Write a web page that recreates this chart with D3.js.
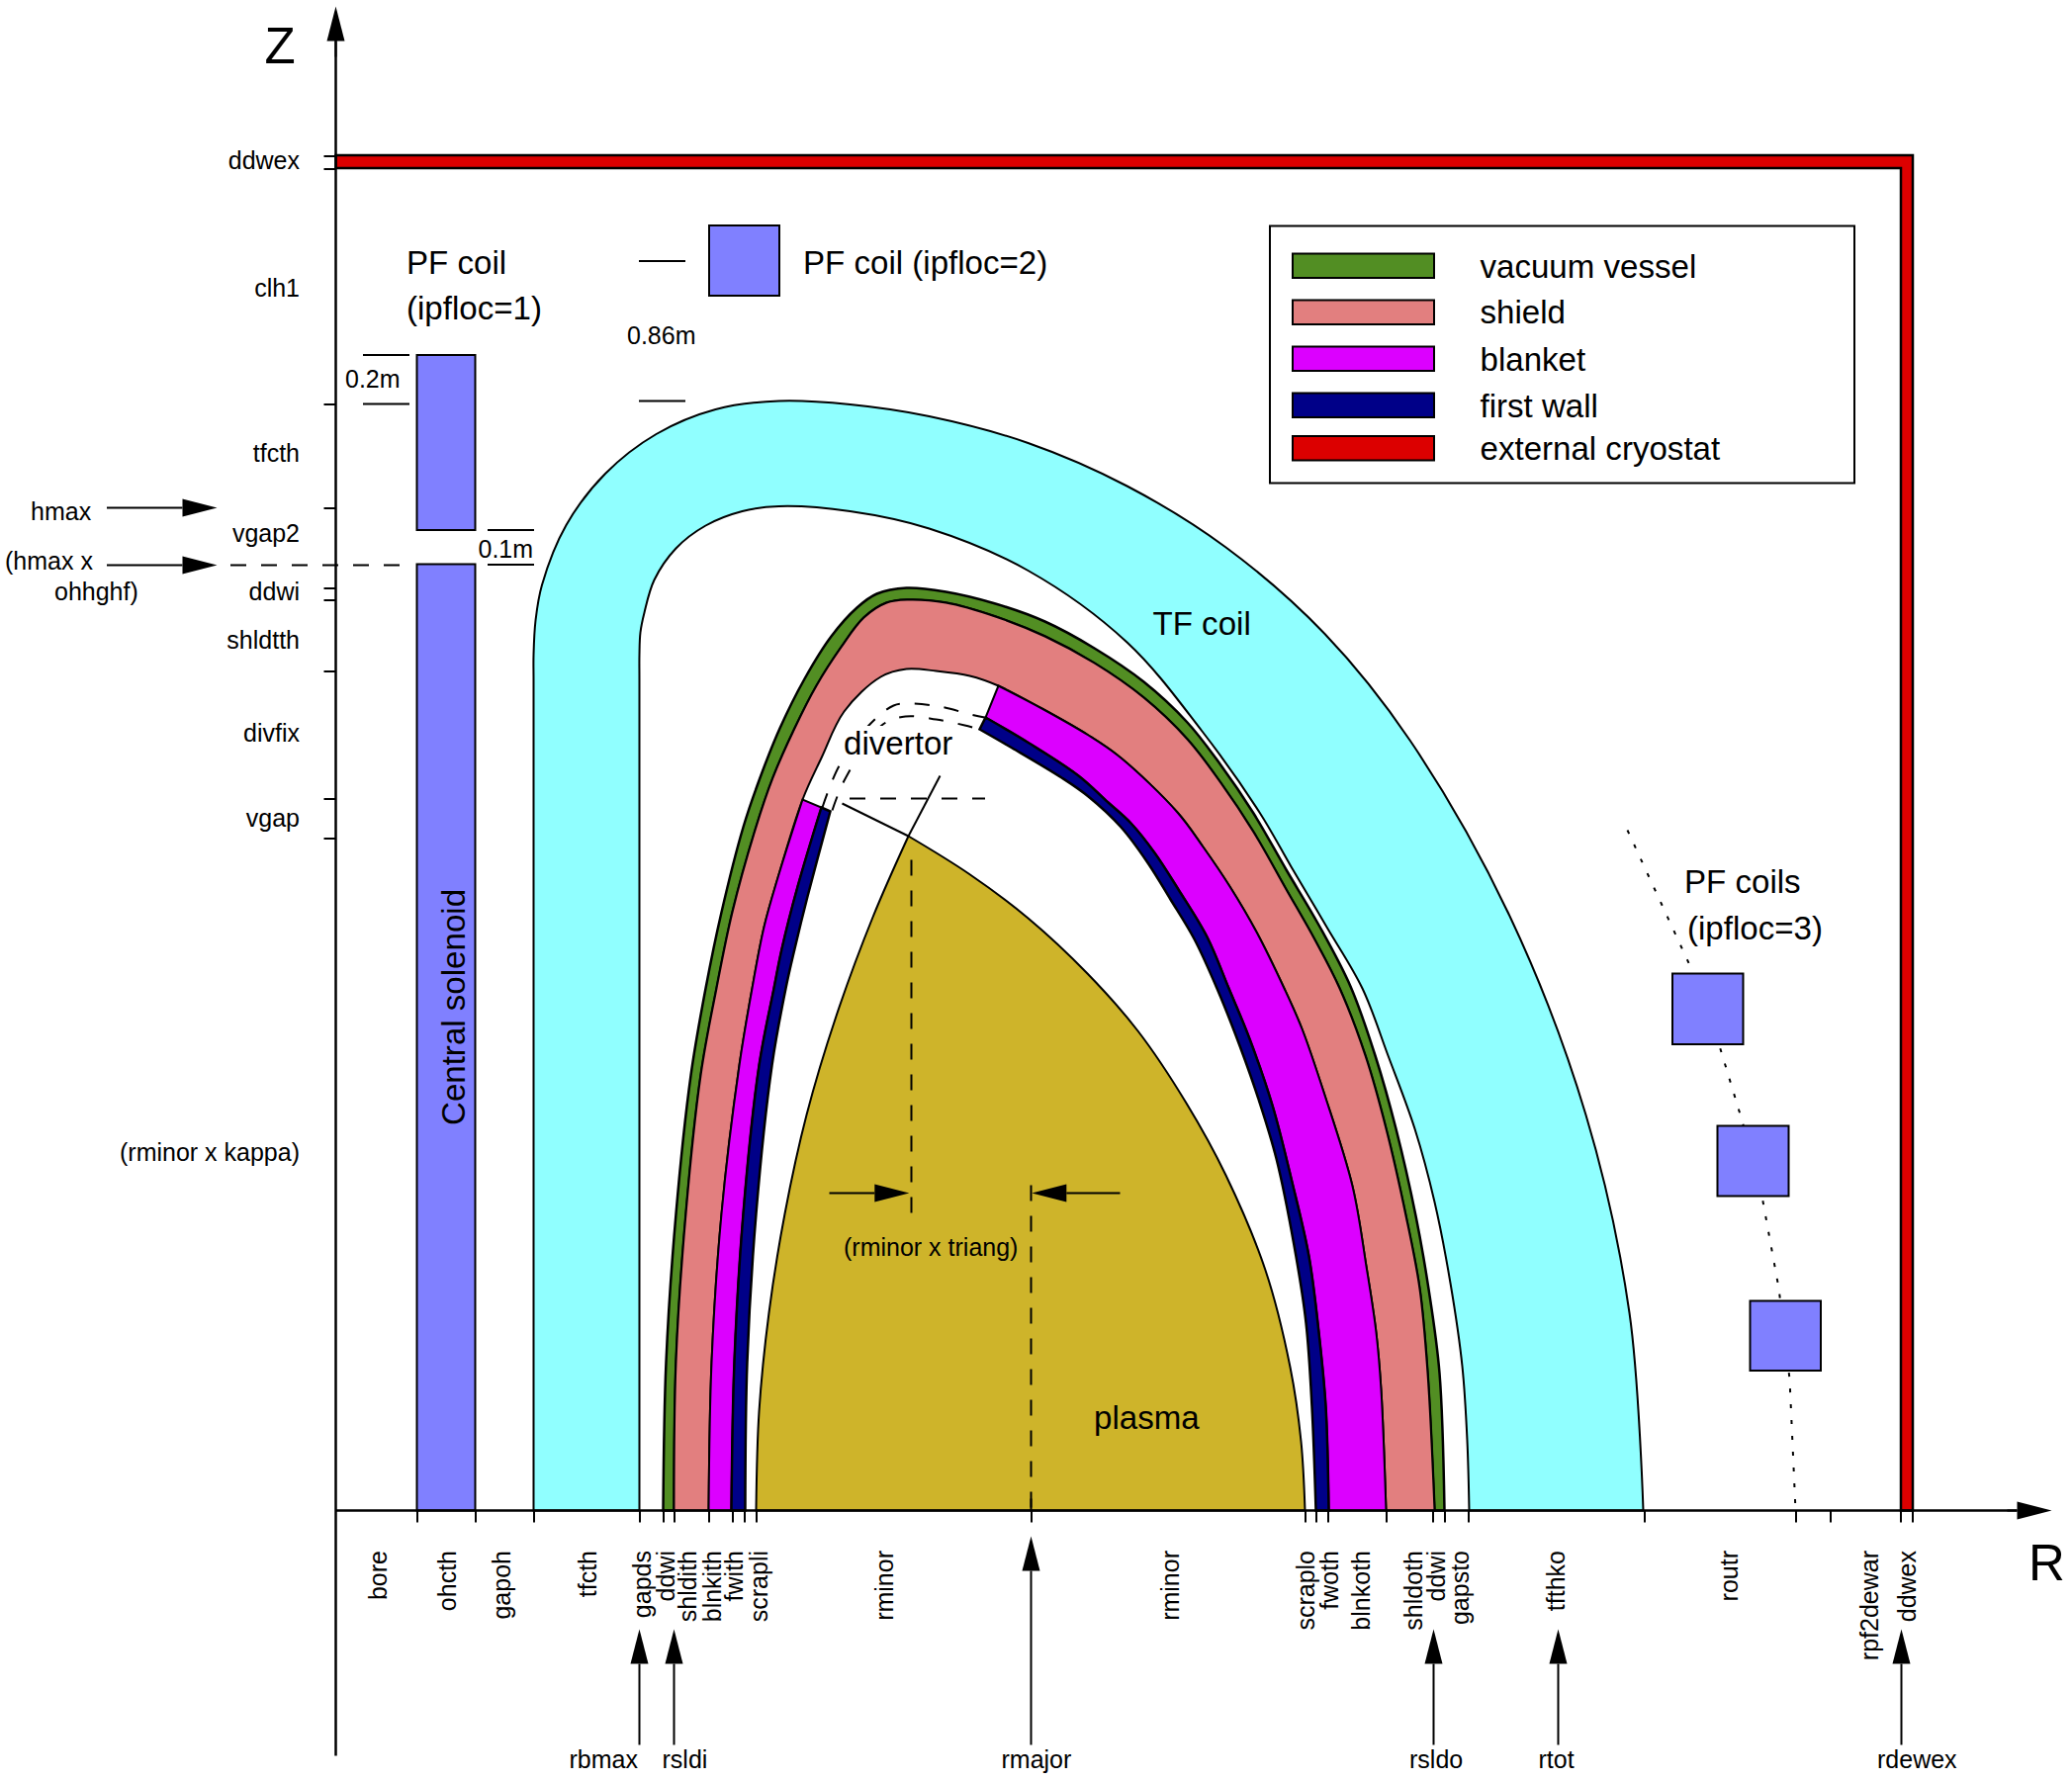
<!DOCTYPE html>
<html>
<head>
<meta charset="utf-8">
<script src="https://cdnjs.cloudflare.com/ajax/libs/d3/7.8.5/d3.min.js"></script>
<style>
  body { margin: 0; background: #fff; }
  text { font-family: "Liberation Sans", Arial, sans-serif; fill: #000; }
</style>
</head>
<body>
<svg id="chart" width="2095" height="1800"></svg>
<script>
// all outlines are [R, Z] in drawing units, origin where the two axes cross

const plasmaLeft = [[425,0],[428,100],[438,200],[454,300],[476,400],[506,500],[543,600],[579,682]];
const plasmaRight = [[579,682],[640,644],[700,599],[760,543],[811,485],[860,412],[900,339],[940,243],[965,145],[976,70],[980,0]];
const scrapeLine = [[512,715],[579,682]];

const tfOuter = [[200,0],[200,400],[200,700],[200,840],[200,865],[202,900],[208.5,936],[233,996.5],[272.5,1048.5],[324,1088.5],[384,1113.5],[448,1122],[520,1118.5],[600,1106.5],[700,1079.5],[800,1036],[900,974],[1000,886.5],[1086,779],[1187.5,600],[1264,400],[1308,200],[1322,0]];
const tfInner = [[307,0],[307,400],[307,700],[307,840],[307,865],[308,888],[312,908],[322,941],[344,973],[374,996],[411,1010.5],[448,1015.5],[520,1010.5],[600,993],[700,950.5],[800,878],[876,788],[934,706],[966,651],[1002,590],[1038,528],[1064,460],[1091,386],[1111,312],[1127,230],[1139,146],[1144,71],[1146,0]];

const vesselOuter = [[331,0],[334,150],[344,300],[359,440],[374,528],[390,605],[412,691],[429,741],[449,791],[474,841],[501,884],[527,913],[547,927],[577,933],[617,929],[667,917],[717,899],[767,872],[817,838],[861,797],[894,755],[928,705],[961,648],[994,592],[1026,530],[1051,460],[1072,386],[1092,298],[1105,224],[1116,139],[1121,0]];
const vesselInner = [[342,0],[344,150],[354,300],[369,440],[385,528],[401,605],[424,688],[442,741],[464,791],[486,834],[511,873],[534,903],[557,918],[578,921],[617,918],[667,904],[717,884],[767,857],[817,822],[861,780],[894,737],[928,686],[961,628],[990,577],[1015,528],[1041,460],[1062,386],[1082,298],[1096,224],[1104,139],[1111,0]];

const shieldInnerLeft = [[377,0],[380,150],[390,300],[408,450],[421,528],[433,590],[447,640],[472,719]];
const shieldDome = [[491,761],[514,808],[551,843],[577,851],[607,849],[641,844]];
const shieldInnerRight = [[670,834],[714,811],[761,784],[794,761],[851,706],[877,671],[904,631],[931,585],[959,528],[977,487],[999,423],[1028,328],[1042,247],[1052,180],[1057,122],[1062,0]];

const blanketInnerLeft = [[400,0],[403,150],[412,300],[428,450],[443,528],[451,568],[467,631],[491,711]];
const blanketInnerRight = [[657,802],[701,776],[751,743],[781,716],[804,695],[828,665],[852,628],[881,580],[903,528],[924,477],[947,410],[967,332],[984,257],[994,180],[1001,105],[1004,0]];
const wallInnerLeft = [[414,0],[416,150],[425,300],[441,450],[455,528],[464,568],[477,621],[500,707]];
const wallInnerRight = [[651,790],[684,771],[734,741],[761,722],[794,691],[821,655],[844,618],[868,578],[891,528],[914,470],[934,413],[951,356],[969,268],[981,190],[987,105],[991,0]];

const divertorOuter = [[492,711],[509,753],[539,794],[564,814],[579,816],[611,813],[642,805],[656,802]];
const divertorInner = [[502,708],[514,738],[552,794],[576,803],[607,800],[636,794],[651,790]];
const divertorPointer = [[611,743],[579,682]];
const divertorLevel = [[519.5,720],[656.5,720]];

const coilTrack = [[1306,688],[1372,545],[1399,470],[1422,394],[1442,318],[1459,225],[1470,133],[1476,0]];

// r0, r1, z0, z1
const coils = [[82,141,0,957],[82,141,991.5,1168.5],[377.5,448.5,1228.5,1299.5],[1351.5,1423,471.5,543],[1397,1469,318,389],[1430,1501.5,141.5,212]];
const cryostatOuter = [[0,1370.5],[1594.5,1370.5],[1594.5,0]];
const cryostatInner = [[1582.5,0],[1582.5,1357.5],[0,1357.5]];

const rTicks = [82,141,200,307,331,342,377,401,413,425,703,980,991,1003,1062,1109,1121,1145,1323,1476,1511,1582,1594];
const zTicks = [1370,1357,1119,1014,933,921,849,720,680];

const rLabels = ["bore","ohcth","gapoh","tfcth","gapds","ddwi","shldith","blnkith","fwith","scrapli","rminor","rminor","scraplo","fwoth","blnkoth","shldoth","ddwi","gapsto","tfthko","routr","rpf2dewar","ddwex"];
const rLabelAt = [51,121,176,263,318,342,364,389,411,436,563,852,989,1013,1045,1098,1121,1145,1242,1417,1559,1597];
const zLabels = ["ddwex","clh1","tfcth","vgap2","ddwi","shldtth","divfix","vgap","(rminor x kappa)"];
const zLabelAt = [1357,1228,1061,980,921,872,778,692,354];

const radiusNames = ["rbmax","rsldi","rmajor","rsldo","rtot","rdewex"];
const radiusValues = [307,342,703,1110,1236,1583];
const radiusLabelAt = [236,330,673,1085.5,1216,1558.5];

const legendLabels = ["vacuum vessel","shield","blanket","first wall","external cryostat"];
const legendColors = ["#528e23","#e27f7f","#dc00ff","#000088","#dc0000"];

const colCoil = "#8080ff", colTf = "#90ffff", colPlasma = "#ceb42a";
const smallFont = 25, bigFont = 33.1;

const svg = d3.select("#chart");
const x = d3.scaleLinear().domain([0, 1735]).range([339.5, 2074.5]);
const y = d3.scaleLinear().domain([0, 1521]).range([1527.5, 6.5]);

const line = d3.line().x(d => x(d[0])).y(d => y(d[1])).curve(d3.curveCatmullRom.alpha(0.5));
const straight = d3.line().x(d => x(d[0])).y(d => y(d[1]));

// closed shape between two outlines, straight across both ends
const band = (outer, inner) => line(outer) + "L" + line(inner.slice().reverse()).slice(1) + "Z";

const shape = (d, fill, sw) => svg.append("path").attr("d", d).attr("fill", fill)
  .attr("stroke", "#000").attr("stroke-width", sw || 2).attr("stroke-linejoin", "miter");

const stroke = (d, sw, dash) => svg.append("path").attr("d", d).attr("fill", "none")
  .attr("stroke", "#000").attr("stroke-width", sw || 2).attr("stroke-dasharray", dash || null);

const label = (str, px, py, size, anchor) => svg.append("text").attr("x", px).attr("y", py)
  .attr("font-size", size).attr("text-anchor", anchor || "start").text(str);

function arrow(from, to) {
  // head is 35 long and 18 wide
  const x1 = x(from[0]), y1 = y(from[1]), x2 = x(to[0]), y2 = y(to[1]);
  const len = Math.hypot(x2 - x1, y2 - y1), ux = (x2 - x1) / len, uy = (y2 - y1) / len;
  const bx = x2 - ux * 35, by = y2 - uy * 35;
  svg.append("line").attr("x1", x1).attr("y1", y1).attr("x2", bx).attr("y2", by)
    .attr("stroke", "#000").attr("stroke-width", 2);
  svg.append("path").attr("fill", "#000")
    .attr("d", `M${x2},${y2}L${bx - uy * 9},${by + ux * 9}L${bx + uy * 9},${by - ux * 9}Z`);
}

// build, outside in
shape(band(tfOuter, tfInner), colTf);
shape(band(vesselOuter, vesselInner), legendColors[0], 2.5);
const shieldInner = shieldInnerLeft.concat(shieldDome, shieldInnerRight);
shape(band(vesselInner, shieldInner), legendColors[1]);
shape(band(shieldInnerLeft, blanketInnerLeft), legendColors[2]);
shape(band(shieldInnerRight, blanketInnerRight), legendColors[2]);
shape(band(blanketInnerLeft, wallInnerLeft), legendColors[3], 2.5);
shape(band(blanketInnerRight, wallInnerRight), legendColors[3], 2.5);
shape(line(plasmaLeft) + "L" + line(plasmaRight).slice(1) + "Z", colPlasma);
stroke(straight(scrapeLine));
stroke(line(divertorOuter), 2, "15 15");
stroke(line(divertorInner), 2, "15 15");
stroke(straight(divertorPointer));
stroke(straight(divertorLevel), 2, "16 15");

// cryostat
shape(straight(cryostatOuter.concat(cryostatInner)) + "Z", legendColors[4], 2.5);

// pf coils
stroke(straight(coilTrack), 2, "4 12");
coils.forEach(c => {
  svg.append("rect").attr("x", x(c[0])).attr("y", y(c[3]))
    .attr("width", x(c[1]) - x(c[0])).attr("height", y(c[2]) - y(c[3]))
    .attr("fill", colCoil).attr("stroke", "#000").attr("stroke-width", 2);
});

// dashed guides
stroke(straight([[-106.5,956],[66.5,956]]), 2, "16 15");
stroke(straight([[582,658],[582,296]]), 2, "16 15");
stroke(straight([[703,329],[703,0]]), 2, "16 15");

// size marks beside the coils
[[27.5,74.5,1168.5],[27.5,74.5,1119],[153.5,200.5,991.5],[153.5,200.5,956.5],[306.5,353.5,1263.5],[306.5,353.5,1122]]
  .forEach(m => stroke(straight([[m[0],m[2]],[m[1],m[2]]])));

// axes
const rAxis = d3.axisBottom(x).tickValues(rTicks).tickSize(12).tickFormat("");
const zAxis = d3.axisLeft(y).tickValues(zTicks).tickSize(12).tickFormat("");
const rAxisG = svg.append("g").attr("transform", `translate(0,${y(0)})`).call(rAxis);
const zAxisG = svg.append("g").attr("transform", `translate(${x(0)},0)`).call(zAxis);
rAxisG.select(".domain").remove();
zAxisG.select(".domain").remove();
rAxisG.selectAll("line").attr("stroke-width", 2);
zAxisG.selectAll("line").attr("stroke-width", 2);
stroke(straight([[703,12],[703,0]]));
stroke(straight([[0,0],[1700,0]]), 2.5);
stroke(straight([[0,-248],[0,1490]]), 2.5);
arrow([1690,0],[1735,0]);
arrow([0,1470],[0,1521]);

// arrows pointing at heights and radii
arrow([-231.5,1014],[-120,1014]);
arrow([-231.5,956],[-120,956]);
arrow([499,321],[579.8,321]);
arrow([793,321],[703.8,321]);
radiusValues.forEach(r => arrow([r,-237], [r, r === 703 ? -26 : -120]));

// axis labels
label("Z", x(-72), y(1464), 51);
label("R", x(1711.5), y(-70.5), 51);

rLabels.forEach((t, i) => {
  svg.append("text").attr("font-size", smallFont).attr("text-anchor", "end")
    .attr("transform", `translate(${x(rLabelAt[i])},1568) rotate(-90)`).text(t);
});
zLabels.forEach((t, i) => label(t, 303, y(zLabelAt[i]), smallFont, "end"));
radiusNames.forEach((t, i) => label(t, x(radiusLabelAt[i]), 1788, smallFont));

label("hmax", 31, 526, smallFont);
label("(hmax x", 5, 576, smallFont);
label("ohhghf)", 55, 607, smallFont);
label("0.2m", 349, 392, smallFont);
label("0.1m", 483.5, 564, smallFont);
label("0.86m", 634, 347.5, smallFont);
label("(rminor x triang)", 853, 1270, smallFont);

label("PF coil", 411, 277, bigFont);
label("(ipfloc=1)", 411, 323, bigFont);
label("PF coil (ipfloc=2)", 812, 277, bigFont);
label("PF coils", 1703, 902.5, bigFont);
label("(ipfloc=3)", 1706, 949.5, bigFont);
label("TF coil", 1165.5, 642, bigFont);
// the dashes stop short of this label
svg.append("rect").attr("x", 851).attr("y", 734).attr("width", 114).attr("height", 38).attr("fill", "#fff");
label("divertor", 853, 763, bigFont);
label("plasma", 1106, 1445, bigFont);
svg.append("text").attr("font-size", bigFont).attr("transform", "translate(470,1138) rotate(-90)").text("Central solenoid");

// legend
svg.append("rect").attr("x", 1284).attr("y", 228.5).attr("width", 591).attr("height", 260)
  .attr("fill", "#fff").attr("stroke", "#000").attr("stroke-width", 2);
const legendTop = d3.scaleOrdinal().domain(legendLabels).range([256.5,303.5,350.5,397.5,441]);
const legendBase = d3.scaleOrdinal().domain(legendLabels).range([281,327,375,422,465]);
legendLabels.forEach((t, i) => {
  svg.append("rect").attr("x", 1307).attr("y", legendTop(t)).attr("width", 143).attr("height", 24.5)
    .attr("fill", legendColors[i]).attr("stroke", "#000").attr("stroke-width", 2);
  label(t, 1496.5, legendBase(t), bigFont);
});
</script>
</body>
</html>
